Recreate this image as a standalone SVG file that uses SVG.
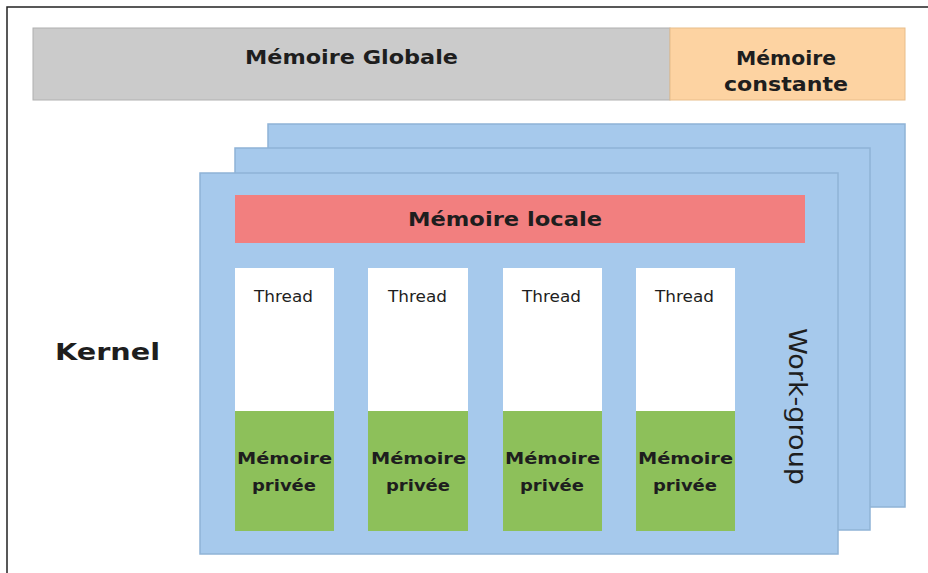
<svg xmlns="http://www.w3.org/2000/svg" width="928" height="573" viewBox="0 0 928 573">
<style>
.b{font-family:"DejaVu Sans",Verdana,sans-serif;font-weight:bold;fill:#1e1e1e}
.n{font-family:"DejaVu Sans",Verdana,sans-serif;fill:#1e1e1e}
.panel{fill:#a6c9ec;stroke:#8fb3d6;stroke-width:1.5}
.thr{fill:#ffffff}
.prv{fill:#8dc05a}
</style>
<rect width="928" height="573" fill="#ffffff"/>
<path d="M7,573 V7 H928" fill="none" stroke="#222" stroke-width="1.5"/>
<g id="global">
<rect x="33" y="28" width="637" height="72" fill="#cbcbcb" stroke="#b0b0b0" stroke-width="1"/>
<text class="b" x="245" y="64" font-size="19" textLength="213" lengthAdjust="spacingAndGlyphs">Mémoire Globale</text>
</g>
<g id="constant">
<rect x="670" y="28" width="235" height="72" fill="#fdd3a2" stroke="#e8bd8a" stroke-width="1"/>
<text class="b" x="736" y="65" font-size="19" textLength="100" lengthAdjust="spacingAndGlyphs">Mémoire</text>
<text class="b" x="724" y="91" font-size="19" textLength="124" lengthAdjust="spacingAndGlyphs">constante</text>
</g>
<g id="workgroup3"><rect class="panel" x="268" y="124" width="637" height="383"/></g>
<g id="workgroup2"><rect class="panel" x="235" y="148" width="635" height="382"/></g>
<g id="workgroup1">
<rect class="panel" x="200" y="173" width="638" height="381"/>
<text class="n" x="0" y="0" font-size="24" textLength="157" lengthAdjust="spacingAndGlyphs" transform="translate(789,328) rotate(90)">Work-group</text>
</g>
<g id="local">
<rect x="235" y="195" width="570" height="48" fill="#f27f7f"/>
<text class="b" x="408" y="226" font-size="19" textLength="194" lengthAdjust="spacingAndGlyphs">Mémoire locale</text>
</g>
<g id="thread1">
<rect class="thr" x="235" y="268" width="99" height="143"/>
<rect class="prv" x="235" y="411" width="99" height="120"/>
<text class="n" x="254" y="302" font-size="15" textLength="59" lengthAdjust="spacingAndGlyphs">Thread</text>
<text class="b" x="237" y="464" font-size="16" textLength="95" lengthAdjust="spacingAndGlyphs">Mémoire</text>
<text class="b" x="252" y="491" font-size="16" textLength="64" lengthAdjust="spacingAndGlyphs">privée</text>
</g>
<g id="thread2">
<rect class="thr" x="368" y="268" width="100" height="143"/>
<rect class="prv" x="368" y="411" width="100" height="120"/>
<text class="n" x="388" y="302" font-size="15" textLength="59" lengthAdjust="spacingAndGlyphs">Thread</text>
<text class="b" x="371" y="464" font-size="16" textLength="95" lengthAdjust="spacingAndGlyphs">Mémoire</text>
<text class="b" x="386" y="491" font-size="16" textLength="64" lengthAdjust="spacingAndGlyphs">privée</text>
</g>
<g id="thread3">
<rect class="thr" x="503" y="268" width="99" height="143"/>
<rect class="prv" x="503" y="411" width="99" height="120"/>
<text class="n" x="522" y="302" font-size="15" textLength="59" lengthAdjust="spacingAndGlyphs">Thread</text>
<text class="b" x="505" y="464" font-size="16" textLength="95" lengthAdjust="spacingAndGlyphs">Mémoire</text>
<text class="b" x="520" y="491" font-size="16" textLength="64" lengthAdjust="spacingAndGlyphs">privée</text>
</g>
<g id="thread4">
<rect class="thr" x="636" y="268" width="99" height="143"/>
<rect class="prv" x="636" y="411" width="99" height="120"/>
<text class="n" x="655" y="302" font-size="15" textLength="59" lengthAdjust="spacingAndGlyphs">Thread</text>
<text class="b" x="638" y="464" font-size="16" textLength="95" lengthAdjust="spacingAndGlyphs">Mémoire</text>
<text class="b" x="653" y="491" font-size="16" textLength="64" lengthAdjust="spacingAndGlyphs">privée</text>
</g>
<g id="kernel">
<text class="b" x="55" y="360" font-size="23" textLength="105" lengthAdjust="spacingAndGlyphs">Kernel</text>
</g>
<g id="connectors"></g>
</svg>
